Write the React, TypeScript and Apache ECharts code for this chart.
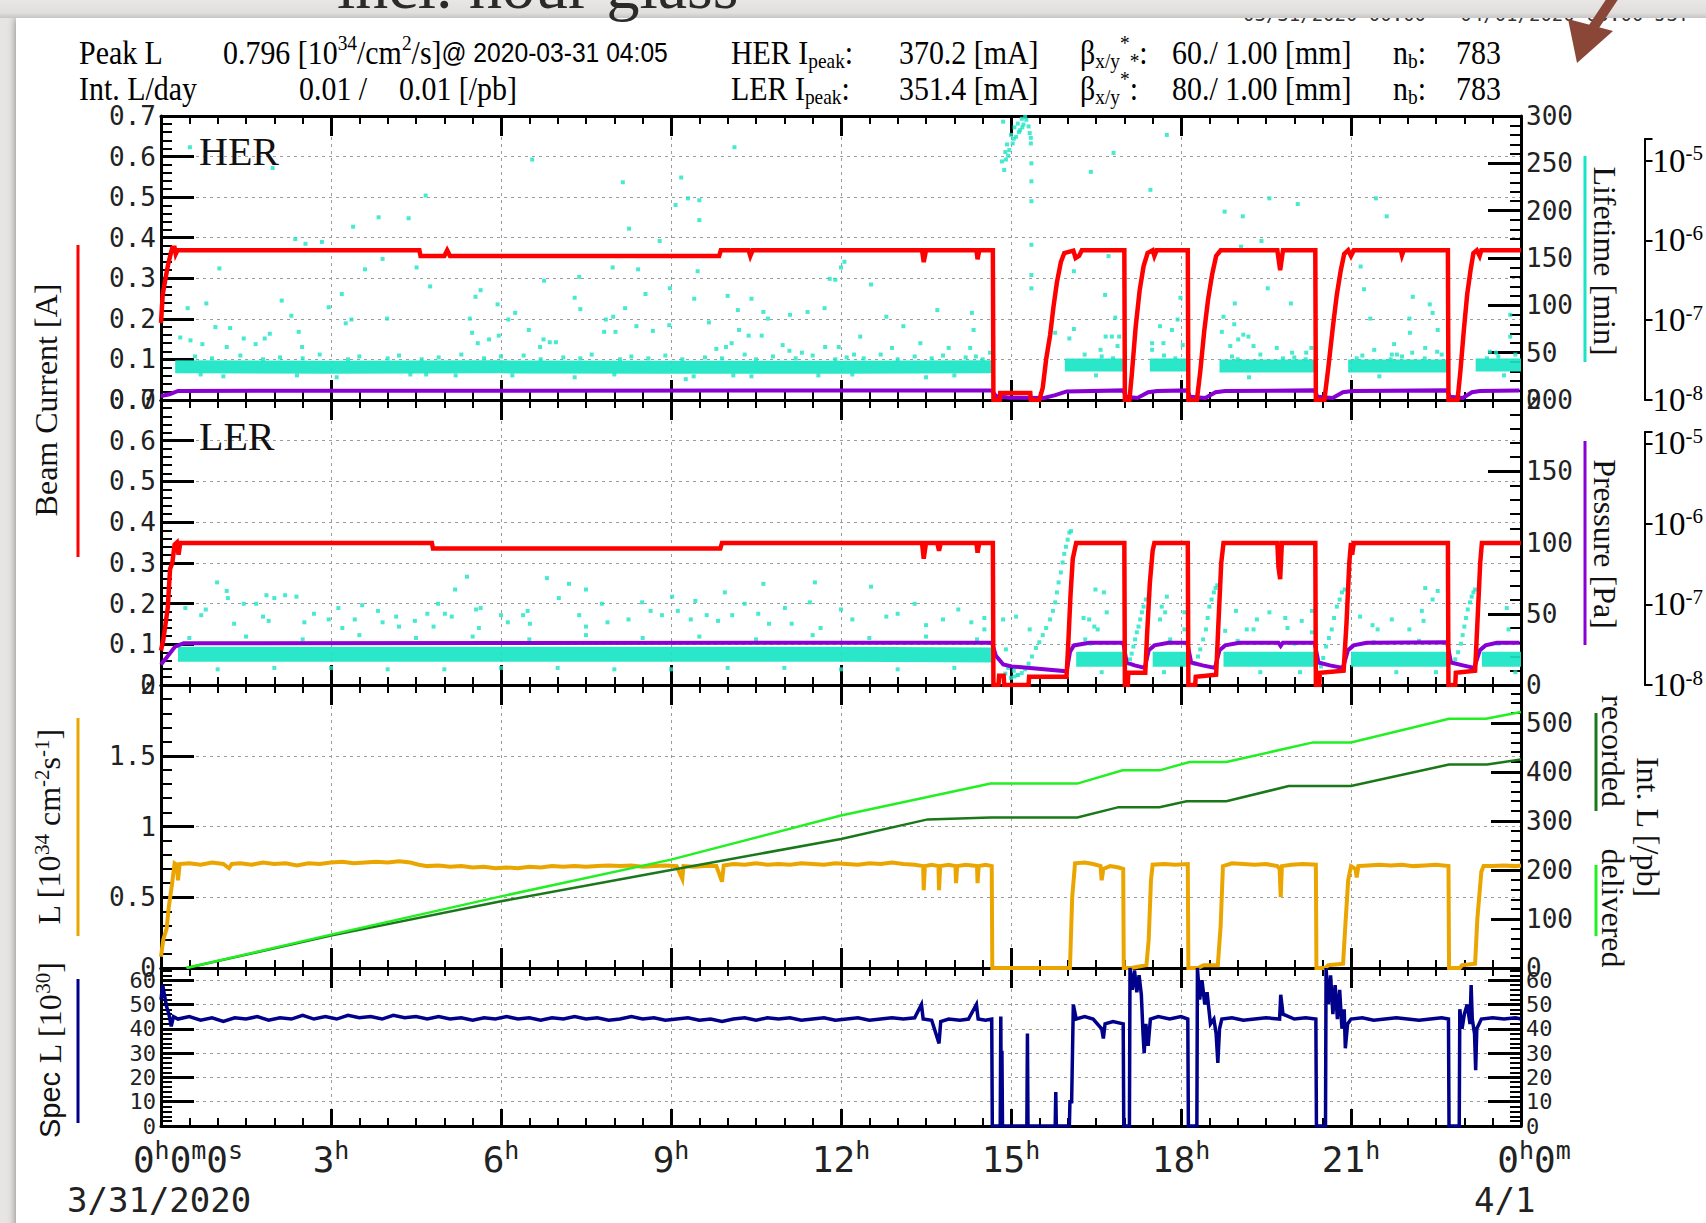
import React, { useEffect, useRef } from "react";
import * as echarts from "echarts";

const MONO = "'DejaVu Sans Mono', 'Liberation Mono', monospace";
const SERIF = "'Liberation Serif', 'DejaVu Serif', serif";
const SANS = "'Liberation Sans', 'DejaVu Sans', sans-serif";

const RED = "#ff0000";
const CYAN = "#19e5c6";
const PURPLE = "#8800d4";
const ORANGE = "#eba500";
const GREEN = "#22f022";
const DKGREEN = "#1a781a";
const NAVY = "#00008b";
const BG = "#e7e5e3";

type Pt = [number, number | null];

// ---------------- data: time in hours since 00:00, 3/31/2020 ----------------

// HER beam current [A]
const herCurrent: Pt[] = [
  [0, 0.19], [0.03, 0.26], [0.08, 0.3], [0.12, 0.33], [0.17, 0.36], [0.2, 0.375], [0.24, 0.375], [0.26, 0.36],
  [0.29, 0.369], [4.56, 0.369], [4.58, 0.355], [5.0, 0.355], [5.05, 0.369], [5.1, 0.355], [9.85, 0.355],
  [9.88, 0.369], [10.37, 0.369], [10.4, 0.355], [10.44, 0.369], [13.43, 0.369], [13.46, 0.34], [13.5, 0.369],
  [14.39, 0.369], [14.41, 0.347], [14.44, 0.369], [14.68, 0.369], [14.69, 0], [14.8, 0], [14.81, 0.017],
  [15.34, 0.017], [15.35, 0], [15.5, 0], [15.56, 0.03], [15.62, 0.1], [15.69, 0.16], [15.75, 0.23],
  [15.81, 0.29], [15.88, 0.34], [15.94, 0.362], [16.1, 0.368], [16.14, 0.35], [16.2, 0.355], [16.25, 0.369],
  [17.0, 0.369], [17.01, 0], [17.09, 0], [17.13, 0.06], [17.2, 0.18], [17.27, 0.27], [17.34, 0.33],
  [17.41, 0.362], [17.5, 0.369], [17.53, 0.355], [17.57, 0.369], [18.12, 0.369], [18.13, 0], [18.28, 0],
  [18.34, 0.07], [18.41, 0.17], [18.48, 0.25], [18.55, 0.31], [18.62, 0.355], [18.7, 0.369], [19.7, 0.369],
  [19.75, 0.32], [19.8, 0.369], [20.37, 0.369], [20.38, 0], [20.53, 0], [20.6, 0.08], [20.68, 0.18],
  [20.75, 0.26], [20.82, 0.32], [20.88, 0.36], [20.95, 0.369], [21.0, 0.355], [21.05, 0.369], [21.88, 0.369],
  [21.9, 0.357], [21.93, 0.369], [22.71, 0.369], [22.72, 0], [22.88, 0], [22.93, 0.07], [22.99, 0.17],
  [23.05, 0.26], [23.11, 0.32], [23.16, 0.362], [23.22, 0.369], [23.27, 0.355], [23.3, 0.369], [24, 0.369],
];

// LER beam current [A]
const lerCurrent: Pt[] = [
  [0, 0.085], [0.04, 0.11], [0.12, 0.19], [0.16, 0.285], [0.2, 0.3], [0.24, 0.345], [0.28, 0.35], [0.31, 0.32],
  [0.34, 0.349], [4.78, 0.349], [4.8, 0.335], [9.87, 0.335], [9.9, 0.349], [13.43, 0.349], [13.46, 0.31],
  [13.5, 0.349], [13.7, 0.349], [13.73, 0.33], [13.76, 0.349], [14.39, 0.349], [14.41, 0.325], [14.44, 0.349],
  [14.68, 0.349], [14.69, 0], [14.78, 0], [14.79, 0.023], [14.87, 0.023], [14.88, 0], [15.31, 0], [15.32, 0.02],
  [15.98, 0.02], [16.01, 0.1], [16.05, 0.22], [16.09, 0.31], [16.15, 0.349], [17.0, 0.349], [17.01, 0],
  [17.06, 0], [17.07, 0.03], [17.37, 0.03], [17.4, 0.12], [17.45, 0.25], [17.5, 0.33], [17.53, 0.349],
  [18.12, 0.349], [18.13, 0], [18.25, 0], [18.26, 0.02], [18.62, 0.025], [18.66, 0.15], [18.71, 0.3],
  [18.75, 0.349], [19.7, 0.349], [19.72, 0.29], [19.75, 0.26], [19.78, 0.349], [20.37, 0.349], [20.38, 0],
  [20.44, 0], [20.45, 0.03], [20.87, 0.035], [20.92, 0.15], [20.97, 0.3], [21.0, 0.349], [21.02, 0.32],
  [21.05, 0.349], [22.71, 0.349], [22.72, 0], [22.84, 0], [22.85, 0.03], [23.19, 0.035], [23.23, 0.15],
  [23.28, 0.3], [23.31, 0.349], [24, 0.349],
];

// HER / LER vacuum pressure [Pa]
const herPressure: Pt[] = [
  [0, 1.12e-8], [0.15, 1.18e-8], [0.3, 1.3e-8], [14.68, 1.32e-8], [14.75, 1.12e-8], [15.0, 1.07e-8],
  [15.6, 1.06e-8], [15.8, 1.15e-8], [16.0, 1.28e-8], [17.0, 1.32e-8], [17.05, 1.1e-8], [17.25, 1.06e-8],
  [17.44, 1.25e-8], [17.6, 1.3e-8], [18.13, 1.32e-8], [18.18, 1.1e-8], [18.45, 1.06e-8], [18.63, 1.25e-8],
  [18.8, 1.3e-8], [20.38, 1.32e-8], [20.43, 1.1e-8], [20.7, 1.06e-8], [20.88, 1.25e-8], [21.05, 1.3e-8],
  [22.72, 1.32e-8], [22.77, 1.1e-8], [23.0, 1.06e-8], [23.16, 1.25e-8], [23.3, 1.3e-8], [24, 1.32e-8],
];
const lerPressure: Pt[] = [
  [0, 1.8e-8], [0.1, 2.2e-8], [0.25, 3.0e-8], [0.4, 3.3e-8], [14.68, 3.35e-8], [14.75, 2.3e-8], [14.88, 1.8e-8],
  [15.03, 1.7e-8], [16.0, 1.48e-8], [16.06, 2.6e-8], [16.13, 3.1e-8], [16.4, 3.35e-8], [17.0, 3.35e-8],
  [17.06, 1.9e-8], [17.2, 1.75e-8], [17.38, 1.63e-8], [17.45, 2.7e-8], [17.55, 3.1e-8], [17.8, 3.35e-8],
  [18.13, 3.35e-8], [18.2, 1.9e-8], [18.4, 1.75e-8], [18.62, 1.63e-8], [18.7, 2.7e-8], [18.8, 3.1e-8],
  [19.05, 3.35e-8], [19.74, 3.35e-8], [19.78, 3.05e-8], [19.82, 3.35e-8], [20.38, 3.35e-8], [20.45, 1.9e-8],
  [20.65, 1.75e-8], [20.88, 1.63e-8], [20.97, 2.7e-8], [21.07, 3.1e-8], [21.3, 3.35e-8], [22.72, 3.4e-8],
  [22.79, 1.9e-8], [23.0, 1.75e-8], [23.2, 1.63e-8], [23.3, 2.7e-8], [23.4, 3.1e-8], [23.6, 3.35e-8],
  [24, 3.35e-8],
];

// Beam lifetime [min]: the dense core of readings while stored, and the scattered readings
const herLifetimeCore: Pt[] = [
  [0.25, 35], [3, 34.5], [6, 35], [9, 34.5], [12, 34.5], [14.66, 35], [14.67, null], [15.95, 37], [17.0, 37],
  [17.01, null], [17.45, 37], [18.12, 37], [18.13, null], [18.68, 36], [20.37, 36], [20.38, null], [20.95, 36],
  [22.71, 36], [22.72, null], [23.2, 37], [24, 37],
];
const herLifetime: Pt[] = [
  [0.34, 66], [0.47, 97], [0.51, 267], [0.52, 63], [0.73, 59], [0.8, 102], [0.96, 77], [1.03, 139], [1.16, 56],
  [1.22, 76], [1.46, 65], [1.67, 59], [1.83, 65], [1.92, 70], [1.97, 245], [2.13, 105], [2.3, 89], [2.37, 170],
  [2.43, 72], [2.49, 56], [2.55, 165], [2.84, 167], [2.96, 98], [3.19, 112], [3.26, 81], [3.36, 85], [3.39, 183],
  [3.6, 138], [3.84, 193], [3.91, 149], [3.99, 86], [4.37, 192], [4.51, 140], [4.67, 216], [4.68, 27], [4.75, 120],
  [5.45, 86], [5.49, 71], [5.55, 109], [5.59, 60], [5.64, 116], [5.79, 64], [5.94, 101], [5.96, 68], [6.13, 85],
  [6.25, 92], [6.49, 74], [6.55, 254], [6.69, 56], [6.75, 64], [6.76, 126], [6.86, 61], [6.97, 61], [7.3, 108],
  [7.38, 130], [7.4, 96], [7.82, 72], [7.85, 85], [7.97, 140], [7.98, 88], [8.02, 72], [8.15, 230], [8.19, 97],
  [8.26, 181], [8.39, 78], [8.42, 138], [8.55, 112], [8.68, 73], [8.8, 168], [8.97, 79], [8.98, 118], [9.08, 206],
  [9.18, 235], [9.26, 22], [9.3, 213], [9.41, 107], [9.47, 136], [9.5, 211], [9.5, 190], [9.67, 82], [9.8, 54],
  [9.97, 56], [10.0, 110], [10.07, 60], [10.12, 267], [10.18, 95], [10.2, 74], [10.37, 68], [10.42, 107],
  [10.42, 25], [10.6, 68], [10.63, 93], [10.71, 86], [10.97, 58], [11.09, 52], [11.1, 90], [11.31, 50],
  [11.41, 93], [11.71, 97], [11.72, 56], [11.8, 128], [11.9, 127], [11.96, 56], [12.0, 140], [12.06, 146],
  [12.23, 48], [12.34, 67], [12.53, 122], [12.8, 88], [12.9, 55], [13.1, 78], [13.4, 60], [13.7, 95], [13.9, 55],
  [14.28, 55], [14.31, 92], [14.34, 74], [14.38, 46], [14.63, 50],
  [14.84, 252], [14.86, 294], [14.88, 243], [14.9, 262], [14.91, 254], [14.93, 270], [14.95, 258], [14.97, 264],
  [15.0, 280], [15.03, 271], [15.05, 276], [15.06, 288], [15.09, 278], [15.12, 292], [15.14, 283], [15.16, 285],
  [15.19, 297], [15.2, 288], [15.22, 291], [15.25, 299], [15.27, 296], [15.31, 289], [15.33, 282], [15.35, 277],
  [15.35, 271], [15.36, 250], [15.36, 231], [15.36, 210], [15.36, 164], [15.36, 132], [15.36, 118],
  [15.78, 71], [16.03, 65], [16.11, 136], [16.11, 75], [16.41, 241], [16.58, 53], [16.66, 111], [16.67, 67],
  [16.72, 152], [16.78, 67], [16.81, 261], [16.84, 87], [16.88, 57], [16.91, 67], [17.46, 222], [17.49, 60],
  [17.49, 53], [17.63, 78], [17.69, 60], [17.75, 280], [17.84, 74], [17.94, 85], [17.99, 108], [18.03, 58],
  [18.72, 72], [18.75, 88], [18.77, 199], [18.87, 57], [18.94, 80], [18.95, 102], [19.01, 64], [19.06, 162],
  [19.09, 194], [19.1, 69], [19.19, 67], [19.28, 57], [19.42, 168], [19.53, 118], [19.56, 213], [19.69, 55],
  [19.94, 102], [19.96, 50], [20.06, 207], [20.21, 50], [20.3, 55], [21.17, 141], [21.23, 117], [21.34, 86],
  [21.41, 53], [21.44, 213], [21.63, 194], [21.72, 48], [21.76, 59], [21.81, 48], [22.03, 86], [22.04, 71],
  [22.08, 50], [22.09, 109], [22.31, 55], [22.39, 101], [22.44, 92], [22.52, 51], [22.53, 74], [23.45, 51],
  [23.56, 50], [23.81, 90], [23.81, 67],
  [0.6, 46], [1.4, 47], [2.1, 45], [2.8, 48], [3.5, 46], [4.2, 47], [4.9, 45], [5.3, 48], [6.0, 46], [6.4, 47],
  [7.1, 45], [7.6, 48], [8.3, 46], [8.9, 47], [9.6, 45], [10.3, 48], [10.8, 46], [11.5, 47], [12.1, 45],
  [12.7, 48], [13.3, 46], [13.8, 47], [14.2, 45], [16.3, 48], [16.6, 46], [17.7, 47], [18.9, 46], [19.4, 48],
  [20.0, 45], [21.2, 47], [21.9, 46], [22.6, 48], [23.6, 46], [23.9, 48], [1.1, 25], [3.1, 24], [5.2, 26],
  [7.3, 24], [9.4, 25], [11.6, 26], [13.5, 24], [16.5, 26], [19.2, 24], [21.5, 25], [23.7, 26],
  [0.9, 44], [1.8, 43], [2.5, 44], [3.3, 43], [4.0, 44], [4.6, 43], [5.7, 44], [6.7, 43], [7.4, 44], [8.1, 43],
  [8.6, 44], [9.2, 43], [9.9, 44], [10.5, 43], [11.2, 44], [11.9, 43], [12.4, 44], [13.0, 43], [13.6, 44],
  [14.5, 43], [16.8, 44], [17.9, 44], [19.0, 43], [19.8, 44], [20.2, 43], [21.1, 44], [21.7, 43], [22.3, 44],
  [23.4, 44], [0.7, 27], [2.4, 26], [4.4, 27], [6.2, 26], [8.0, 27], [10.1, 26], [12.2, 27], [14.0, 26],
];

const lerLifetimeCore: Pt[] = [
  [0.3, 21.5], [3, 21.5], [6, 21.5], [9, 21.5], [12, 21.5], [14.66, 21], [14.67, null], [16.15, 18], [17.0, 18],
  [17.01, null], [17.5, 18], [18.12, 18], [18.13, null], [18.75, 18], [20.37, 18], [20.38, null], [21.0, 18],
  [22.71, 18], [22.72, null], [23.31, 18], [24, 18],
];
const lerLifetime: Pt[] = [
  [0.43, 54], [0.71, 49], [0.79, 53], [0.99, 72], [1.16, 66], [1.18, 61], [1.29, 43], [1.46, 57], [1.68, 57],
  [1.8, 48], [1.86, 63], [1.9, 45], [2.0, 61], [2.19, 63], [2.39, 62], [2.53, 44], [2.7, 50], [2.96, 46],
  [3.13, 54], [3.2, 40], [3.42, 46], [3.55, 56], [3.83, 52], [3.91, 44], [4.15, 48], [4.2, 41], [4.48, 45],
  [4.7, 50], [4.81, 41], [4.89, 57], [5.01, 50], [5.13, 48], [5.19, 67], [5.4, 76], [5.56, 53], [5.61, 40],
  [5.64, 54], [6.0, 49], [6.12, 44], [6.39, 49], [6.47, 52], [6.51, 43], [6.81, 75], [7.02, 61], [7.2, 71],
  [7.38, 49], [7.5, 67], [7.5, 41], [7.78, 57], [7.88, 44], [8.25, 46], [8.49, 58], [8.64, 52], [8.84, 49],
  [9.02, 62], [9.12, 52], [9.35, 46], [9.43, 59], [9.63, 49], [9.83, 45], [9.95, 65], [10.08, 49], [10.3, 57],
  [10.54, 50], [10.63, 71], [10.73, 43], [11.01, 54], [11.13, 43], [11.45, 58], [11.54, 72], [11.64, 40],
  [12.0, 53], [12.2, 46], [12.53, 69], [12.8, 48], [13.0, 50], [13.3, 57], [13.5, 42], [13.8, 46], [14.07, 53],
  [14.3, 44], [14.53, 47], [14.53, 39], [14.86, 46], [15.09, 48], [14.91, 25], [15.33, 39],
  [14.9, 8], [14.95, 12], [15.0, 5], [15.05, 10], [15.12, 7],
  [15.06, 6], [15.12, 7], [15.19, 8.4], [15.25, 11], [15.31, 15], [15.37, 20], [15.44, 26], [15.5, 30],
  [15.56, 35], [15.62, 40], [15.69, 46], [15.74, 52], [15.78, 58], [15.81, 65], [15.84, 72], [15.88, 79],
  [15.91, 86], [15.94, 92], [15.97, 97], [16.0, 102], [16.03, 107], [16.06, 108],
  [17.06, 15], [17.1, 18], [17.13, 22], [17.16, 27], [17.19, 32], [17.22, 37], [17.25, 41], [17.28, 46],
  [17.31, 51], [17.34, 55], [17.38, 60], [17.43, 62],
  [18.25, 15], [18.3, 20], [18.34, 25], [18.39, 32], [18.44, 39], [18.47, 47], [18.5, 55], [18.54, 60],
  [18.58, 65], [18.61, 68], [18.64, 70],
  [20.47, 13], [20.51, 19], [20.56, 27], [20.61, 33], [20.66, 39], [20.7, 47], [20.75, 55], [20.8, 60],
  [20.84, 65], [20.89, 67],
  [22.84, 18], [22.89, 23], [22.94, 29], [22.97, 35], [23.0, 41], [23.03, 47], [23.06, 53], [23.1, 58],
  [23.13, 62], [23.16, 65], [23.19, 67],
  [16.28, 47], [16.31, 32], [16.38, 46], [16.47, 41], [16.49, 67], [16.53, 39], [16.64, 65], [16.69, 51],
  [17.63, 46], [17.66, 55], [17.72, 51], [17.75, 62], [17.81, 32], [18.06, 51], [18.06, 39], [18.78, 38],
  [18.97, 52], [19.16, 39], [19.28, 39], [19.34, 46], [19.56, 51], [19.84, 47], [19.88, 40], [20.13, 45],
  [20.31, 52], [20.31, 37], [21.16, 48], [21.38, 42], [21.47, 39], [21.72, 46], [22.03, 39], [22.25, 52],
  [22.28, 45], [22.31, 68], [22.44, 60], [22.53, 66], [23.75, 54], [23.78, 39],
  [0.5, 33], [1.5, 34], [2.5, 32], [3.5, 35], [4.5, 33], [5.5, 34], [6.5, 32], [7.5, 35], [8.5, 33], [9.5, 34],
  [10.5, 32], [11.5, 35], [12.5, 33], [13.5, 34], [14.4, 32], [16.4, 29], [17.8, 30], [19.0, 31], [20.0, 29],
  [21.4, 30], [22.2, 31], [23.6, 29], [1.0, 11], [3.0, 12], [5.0, 11], [7.0, 12], [9.0, 11], [11.0, 12],
  [13.0, 11], [16.6, 9], [19.4, 9], [21.8, 9], [23.9, 9], [2.0, 12], [4.0, 11], [6.0, 12], [8.0, 11],
  [10.0, 12], [12.0, 11], [14.0, 12], [17.7, 9], [20.1, 9], [22.5, 9],
];

// Luminosity [10^34 cm^-2 s^-1]
const luminosity: Pt[] = [
  [0, 0.08], [0.04, 0.2], [0.1, 0.28], [0.14, 0.44], [0.19, 0.58], [0.24, 0.74], [0.28, 0.73], [0.3, 0.62],
  [0.33, 0.735], [0.5, 0.74], [0.7, 0.73], [0.9, 0.745], [1.1, 0.735], [1.2, 0.705], [1.25, 0.735], [1.4, 0.74],
  [1.6, 0.73], [1.8, 0.745], [2.0, 0.735], [2.2, 0.74], [2.4, 0.725], [2.6, 0.74], [2.8, 0.735], [3.0, 0.745],
  [3.2, 0.75], [3.4, 0.74], [3.6, 0.745], [3.8, 0.75], [4.0, 0.745], [4.2, 0.755], [4.4, 0.745], [4.55, 0.73],
  [4.7, 0.72], [4.9, 0.725], [5.1, 0.715], [5.3, 0.72], [5.5, 0.71], [5.7, 0.715], [5.9, 0.705], [6.1, 0.71],
  [6.3, 0.705], [6.5, 0.715], [6.7, 0.71], [6.9, 0.72], [7.1, 0.715], [7.3, 0.72], [7.5, 0.715], [7.7, 0.72],
  [7.9, 0.725], [8.1, 0.72], [8.3, 0.725], [8.5, 0.715], [8.7, 0.72], [8.9, 0.725], [9.1, 0.72], [9.2, 0.63],
  [9.22, 0.72], [9.4, 0.715], [9.6, 0.72], [9.8, 0.72], [9.9, 0.61], [9.93, 0.725], [10.1, 0.735], [10.3, 0.73],
  [10.5, 0.74], [10.7, 0.73], [10.9, 0.735], [11.1, 0.73], [11.3, 0.74], [11.5, 0.735], [11.7, 0.73],
  [11.9, 0.74], [12.1, 0.735], [12.3, 0.73], [12.5, 0.74], [12.7, 0.735], [12.9, 0.745], [13.1, 0.735],
  [13.3, 0.73], [13.45, 0.72], [13.46, 0.55], [13.48, 0.72], [13.6, 0.73], [13.72, 0.72], [13.73, 0.55],
  [13.75, 0.72], [13.9, 0.73], [14.02, 0.72], [14.03, 0.6], [14.05, 0.72], [14.2, 0.73], [14.4, 0.72],
  [14.41, 0.6], [14.43, 0.72], [14.55, 0.73], [14.66, 0.72], [14.67, 0], [16.04, 0], [16.08, 0.5],
  [16.13, 0.74], [16.3, 0.745], [16.45, 0.735], [16.58, 0.72], [16.6, 0.62], [16.63, 0.7], [16.75, 0.72],
  [16.9, 0.71], [16.98, 0.7], [16.99, 0], [17.12, 0], [17.39, 0.02], [17.43, 0.2], [17.47, 0.62], [17.5, 0.73],
  [17.7, 0.735], [17.9, 0.73], [18.12, 0.735], [18.13, 0], [18.3, 0], [18.4, 0.02], [18.65, 0.02], [18.7, 0.3],
  [18.74, 0.72], [18.9, 0.74], [19.1, 0.735], [19.3, 0.73], [19.5, 0.735], [19.7, 0.72], [19.74, 0.7],
  [19.76, 0.5], [19.78, 0.72], [19.95, 0.73], [20.15, 0.735], [20.38, 0.73], [20.39, 0], [20.55, 0],
  [20.6, 0.02], [20.86, 0.03], [20.9, 0.3], [20.95, 0.62], [21.0, 0.72], [21.08, 0.7], [21.1, 0.64],
  [21.13, 0.72], [21.3, 0.725], [21.5, 0.73], [21.7, 0.725], [21.9, 0.73], [22.1, 0.72], [22.3, 0.725],
  [22.5, 0.73], [22.72, 0.72], [22.73, 0], [22.92, 0], [22.96, 0.02], [23.19, 0.03], [23.23, 0.35],
  [23.3, 0.68], [23.34, 0.72], [23.5, 0.72], [23.7, 0.725], [23.9, 0.72], [24, 0.725],
];

// Integrated luminosity [/pb]
const intLumDelivered: Pt[] = [
  [0.45, 0], [3, 68], [6, 146], [9, 221], [12, 311], [14.64, 376], [16.17, 376], [16.97, 403], [17.62, 403],
  [18.15, 420], [18.8, 420], [20.33, 460], [21.0, 460], [22.73, 508], [23.38, 508], [24, 522],
];
const intLumRecorded: Pt[] = [
  [0.45, 0], [3, 66], [6, 136], [9, 200], [12, 263], [13.53, 303], [14.64, 307], [16.17, 307], [16.9, 328],
  [17.62, 328], [18.1, 340], [18.8, 340], [19.9, 371], [21.0, 371], [22.73, 415], [23.4, 415], [24, 425],
];

// Specific luminosity [10^30]
const specificLum: Pt[] = [
  [0, 52], [0.03, 58], [0.06, 54], [0.1, 49], [0.14, 46], [0.18, 41], [0.22, 45], [0.3, 44], [0.5, 45],
  [0.7, 43.5], [0.9, 44.5], [1.1, 43], [1.3, 44.5], [1.5, 44], [1.7, 45], [1.9, 43.5], [2.1, 44.5], [2.3, 44],
  [2.5, 45.5], [2.7, 44], [2.9, 45], [3.1, 44], [3.3, 45.5], [3.5, 44.5], [3.7, 45], [3.9, 44], [4.1, 45.5],
  [4.3, 44.5], [4.5, 45], [4.7, 44], [4.9, 45], [5.1, 44], [5.3, 44.5], [5.5, 43.5], [5.7, 44.5], [5.9, 44],
  [6.1, 45], [6.3, 44], [6.5, 44.5], [6.7, 43.5], [6.9, 44.5], [7.1, 44], [7.3, 45], [7.5, 44], [7.7, 44.5],
  [7.9, 43.5], [8.1, 44], [8.3, 45], [8.5, 44], [8.7, 44.5], [8.9, 43.5], [9.1, 44], [9.3, 44.5], [9.5, 43.5],
  [9.7, 44], [9.9, 43], [10.1, 44], [10.3, 44.5], [10.5, 43.5], [10.7, 44.5], [10.9, 44], [11.1, 44.5],
  [11.3, 43.5], [11.5, 44], [11.7, 44.5], [11.9, 43.5], [12.1, 44], [12.3, 44.5], [12.5, 43.5], [12.7, 44],
  [12.9, 44.5], [13.1, 44], [13.3, 44.5], [13.42, 50], [13.45, 44], [13.6, 43.5], [13.73, 34], [13.76, 43],
  [13.9, 44], [14.1, 43.5], [14.25, 44], [14.39, 50], [14.42, 44], [14.55, 43.5], [14.66, 44], [14.67, 0],
  [14.81, 0], [14.82, 45], [14.83, 0], [14.84, 31], [14.85, 0], [15.28, 0], [15.29, 38], [15.3, 0], [15.78, 0],
  [15.79, 14], [15.8, 0], [16.03, 0], [16.04, 10], [16.07, 10], [16.1, 50], [16.15, 44], [16.3, 45],
  [16.45, 44], [16.6, 40], [16.63, 36], [16.66, 42], [16.8, 43], [16.98, 42], [16.99, 0], [17.09, 0],
  [17.1, 65], [17.14, 56], [17.18, 64], [17.22, 55], [17.26, 62], [17.3, 54], [17.33, 38], [17.35, 30],
  [17.38, 42], [17.42, 33], [17.46, 44], [17.6, 45], [17.8, 44], [18.0, 45], [18.12, 44], [18.13, 0],
  [18.28, 0], [18.29, 65], [18.33, 52], [18.37, 60], [18.42, 50], [18.46, 55], [18.52, 42], [18.58, 44],
  [18.62, 38], [18.65, 26], [18.68, 40], [18.72, 44], [18.9, 44.5], [19.1, 43.5], [19.3, 44], [19.5, 44.5],
  [19.74, 44], [19.76, 54], [19.8, 46], [20.0, 44], [20.2, 44.5], [20.38, 44], [20.39, 0], [20.55, 0],
  [20.56, 65], [20.6, 50], [20.64, 62], [20.68, 46], [20.72, 58], [20.76, 44], [20.8, 56], [20.84, 40],
  [20.88, 48], [20.9, 32], [20.94, 42], [21.0, 44], [21.2, 44.5], [21.4, 43.5], [21.6, 44], [21.8, 44.5],
  [22.0, 44], [22.2, 43.5], [22.4, 44], [22.6, 44.5], [22.72, 44], [22.73, 0], [22.91, 0], [22.92, 48],
  [22.96, 40], [23.0, 46], [23.05, 50], [23.1, 42], [23.12, 58], [23.14, 44], [23.18, 38], [23.2, 23],
  [23.22, 40], [23.3, 44], [23.5, 44.5], [23.7, 44], [23.9, 44.5], [24, 44],
];

// ---------------- layout ----------------
const W = 1706;
const H = 1223;
const PLOT_LEFT = 161;
const PLOT_WIDTH = 1360;
const PANELS = [
  { top: 116, height: 284 },
  { top: 400, height: 285 },
  { top: 685, height: 283 },
  { top: 968, height: 158 },
];
// log-scale pressure axes (10^-8 .. just above 10^-5) beside the two ring panels
const LOG_GRIDS = [
  { top: 139, height: 261, max: -4.73 },
  { top: 432, height: 253, max: -4.86 },
];

const GRID_LINE = { color: "#9c9c9c", width: 1, type: [3, 4] };

const log10Pts = (pts: Pt[]) => pts.map(([t, v]) => [t, v == null ? null : Math.log10(v)]);

function xAxes() {
  const list: any[] = [];
  PANELS.forEach((_, i) => {
    const last = i === PANELS.length - 1;
    const common = {
      type: "value",
      gridIndex: i,
      min: 0,
      max: 24,
      interval: 3,
      axisLine: { show: true, onZero: false, lineStyle: { color: "#000", width: 3 } },
      minorTick: { show: true, splitNumber: 6, length: 8, lineStyle: { color: "#000", width: 2 } },
    };
    list.push({
      ...common,
      position: "bottom",
      axisTick: { show: true, inside: true, length: last ? 17 : 20, lineStyle: { color: "#000", width: 3 } },
      splitLine: { show: true, lineStyle: GRID_LINE },
      axisLabel: last
        ? {
            show: true,
            margin: 12,
            showMinLabel: true,
            showMaxLabel: true,
            formatter: (v: number) =>
              v === 0
                ? "{p| }{n|0}{s|h}{n|0}{s|m}{n|0}{s|s}"
                : v === 24
                ? "{q| }{n|0}{s|h}{n|0}{s|m}"
                : `{n|${v}}{s|h}`,
            rich: {
              n: { fontFamily: MONO, fontSize: 36, lineHeight: 42, color: "#222" },
              s: { fontFamily: MONO, fontSize: 25, lineHeight: 26, color: "#222", verticalAlign: "top" },
              p: { width: 54 },
              q: { width: 26 },
            },
          }
        : { show: false },
    });
    list.push({
      ...common,
      position: "top",
      axisTick: { show: true, inside: true, length: 20, lineStyle: { color: "#000", width: 3 } },
      splitLine: { show: false },
      axisLabel: { show: false },
    });
  });
  LOG_GRIDS.forEach((_, j) => {
    list.push({ type: "value", gridIndex: PANELS.length + j, min: 0, max: 24, show: false });
  });
  return list;
}

function valueAxis(
  grid: number,
  position: "left" | "right",
  min: number,
  max: number,
  interval: number,
  o: { fmt: (v: number) => string; fontSize: number; major: number; minor: number; split?: boolean }
) {
  return {
    type: "value",
    gridIndex: grid,
    position,
    min,
    max,
    interval,
    axisLine: { show: true, onZero: false, lineStyle: { color: "#000", width: 3 } },
    axisTick: { show: true, inside: true, length: o.major, lineStyle: { color: "#000", width: 3 } },
    minorTick: { show: true, splitNumber: 5, length: o.minor, lineStyle: { color: "#000", width: 2 } },
    splitLine: { show: !!o.split, lineStyle: GRID_LINE },
    axisLabel: {
      show: true,
      showMinLabel: true,
      showMaxLabel: true,
      margin: 5,
      fontFamily: MONO,
      fontSize: o.fontSize,
      color: "#222",
      formatter: o.fmt,
    },
  };
}

const oneDecimal = (v: number) => (Math.round(v * 10) / 10).toFixed(1);
const multipleOf = (step: number) => (v: number) =>
  Math.abs(v / step - Math.round(v / step)) < 1e-6 ? String(Math.round(v)) : "";

function yAxes() {
  const logAxes = LOG_GRIDS.map((g, j) => ({
    type: "value",
    gridIndex: PANELS.length + j,
    position: "right",
    offset: 125,
    min: -8,
    max: g.max,
    interval: 1,
    axisLine: { show: true, onZero: false, lineStyle: { color: "#000", width: 2 } },
    axisTick: { show: true, inside: false, length: 8, lineStyle: { color: "#000", width: 2 } },
    splitLine: { show: false },
    axisLabel: {
      show: true,
      margin: 8,
      formatter: (v: number) => (Math.abs(v - Math.round(v)) < 1e-6 ? `{b|10}{s|${Math.round(v)}}` : ""),
      rich: {
        b: { fontFamily: SERIF, fontSize: 33, lineHeight: 36, color: "#000" },
        s: { fontFamily: SERIF, fontSize: 21, lineHeight: 20, color: "#000", verticalAlign: "top" },
      },
    },
  }));
  return [
    valueAxis(0, "left", 0, 0.7, 0.1, { fmt: oneDecimal, fontSize: 26, major: 33, minor: 11, split: true }),
    valueAxis(0, "right", 0, 300, 50, { fmt: multipleOf(50), fontSize: 26, major: 33, minor: 11 }),
    valueAxis(1, "left", 0, 0.7, 0.1, {
      fmt: (v) => (v === 0 ? "0" : oneDecimal(v)),
      fontSize: 26,
      major: 33,
      minor: 11,
      split: true,
    }),
    valueAxis(1, "right", 0, 200, 50, { fmt: multipleOf(50), fontSize: 26, major: 33, minor: 11 }),
    valueAxis(2, "left", 0, 2, 0.5, { fmt: (v) => String(v), fontSize: 26, major: 33, minor: 11, split: true }),
    valueAxis(2, "right", 0, 577, 100, { fmt: multipleOf(100), fontSize: 26, major: 30, minor: 10 }),
    valueAxis(3, "left", 0, 65, 10, { fmt: multipleOf(10), fontSize: 22, major: 33, minor: 11, split: true }),
    valueAxis(3, "right", 0, 65, 10, { fmt: multipleOf(10), fontSize: 22, major: 33, minor: 11 }),
    ...logAxes,
  ];
}

function line(name: string, data: any[], xi: number, yi: number, color: string, width: number, z = 3, opacity = 1) {
  return {
    type: "line",
    name,
    data,
    xAxisIndex: xi,
    yAxisIndex: yi,
    showSymbol: false,
    symbol: "none",
    connectNulls: false,
    lineStyle: { color, width, cap: "butt", join: "miter", opacity },
    itemStyle: { color },
    silent: true,
    z,
  };
}

function dots(name: string, data: any[], xi: number, yi: number, color: string, size: number, z = 3) {
  return {
    type: "scatter",
    name,
    data,
    xAxisIndex: xi,
    yAxisIndex: yi,
    symbol: "rect",
    symbolSize: size,
    itemStyle: { color },
    silent: true,
    z,
  };
}

// ---------------- decorations (texts, legend bars, frame) ----------------
const hdrRich = {
  m: { fontFamily: SERIF, fontSize: 34, lineHeight: 40, fill: "#000" },
  sup: { fontFamily: SERIF, fontSize: 22, lineHeight: 20, verticalAlign: "top", fill: "#000" },
  sub: { fontFamily: SERIF, fontSize: 22, lineHeight: 20, verticalAlign: "bottom", fill: "#000" },
  sans: { fontFamily: SANS, fontSize: 28, lineHeight: 40, fill: "#000" },
};

function hdr(x: number, y: number, text: string) {
  return {
    type: "text",
    x,
    y,
    scaleX: 0.88,
    z: 10,
    style: { text, rich: hdrRich, fontFamily: SERIF, fontSize: 34, fill: "#000", align: "left", verticalAlign: "middle" },
  };
}

const titleRich = {
  m: { fontFamily: SERIF, fontSize: 32, lineHeight: 36, fill: "#111" },
  sup: { fontFamily: SERIF, fontSize: 21, lineHeight: 18, verticalAlign: "top", fill: "#111" },
  sans: { fontFamily: SANS, fontSize: 29, lineHeight: 36, fill: "#111" },
};

function vtitle(x: number, y: number, text: string, rotation: number) {
  return {
    type: "text",
    x,
    y,
    rotation,
    z: 10,
    style: { text, rich: titleRich, fontFamily: SERIF, fontSize: 32, fill: "#111", align: "center", verticalAlign: "middle" },
  };
}

function bar(x: number, y1: number, y2: number, color: string) {
  return { type: "line", z: 10, shape: { x1: x, y1, x2: x, y2 }, style: { stroke: color, lineWidth: 3 } };
}

function graphics() {
  const up = Math.PI / 2;
  const down = -Math.PI / 2;
  return [
    {
      type: "rect",
      z: -10,
      shape: { x: 16, y: 18, width: W, height: H },
      style: { fill: "#ffffff", shadowBlur: 8, shadowColor: "rgba(0,0,0,0.45)" },
    },
    {
      type: "text",
      x: 1243,
      y: 14,
      z: 40,
      style: {
        text: "03/31/2020 00:00 - 04/01/2020 00:00 JST",
        fontFamily: MONO,
        fontSize: 19,
        fill: "#333",
        align: "left",
        verticalAlign: "middle",
      },
    },
    {
      type: "rect",
      z: 50,
      shape: { x: 0, y: 0, width: W, height: 18 },
      style: {
        fill: new echarts.graphic.LinearGradient(0, 0, 0, 1, [
          { offset: 0, color: "#e9e7e5" },
          { offset: 0.7, color: "#e1dfdd" },
          { offset: 1, color: "#c8c6c4" },
        ]),
      },
    },
    {
      type: "text",
      x: 337,
      y: -15,
      z: 60,
      style: { text: "incl. hour glass", fontFamily: SERIF, fontSize: 66, fill: "#2a2a2a", align: "left", verticalAlign: "middle" },
    },
    { type: "line", z: 70, shape: { x1: 1617, y1: -8, x2: 1593, y2: 28 }, style: { stroke: "#8a4738", lineWidth: 10 } },
    { type: "polygon", z: 70, shape: { points: [[1568, 19], [1613, 31], [1577, 63]] }, style: { fill: "#8a4738" } },

    // run summary header
    hdr(79, 52, "{m|Peak L}"),
    hdr(223, 52, "{m|0.796 [10}{sup|34}{m|/cm}{sup|2}{m|/s]}{sans|@ 2020-03-31 04:05}"),
    hdr(79, 88, "{m|Int. L/day}"),
    hdr(299, 88, "{m|0.01 /}"),
    hdr(399, 88, "{m|0.01 [/pb]}"),
    hdr(731, 52, "{m|HER I}{sub|peak}{m|:}"),
    hdr(899, 52, "{m|370.2 [mA]}"),
    hdr(1080, 52, "{m|β}{sub|x/y}{sup|*}{sub|*}{m|:}"),
    hdr(1172, 52, "{m|60./ 1.00 [mm]}"),
    hdr(1393, 52, "{m|n}{sub|b}{m|:}"),
    hdr(1456, 52, "{m|783}"),
    hdr(731, 88, "{m|LER I}{sub|peak}{m|:}"),
    hdr(899, 88, "{m|351.4 [mA]}"),
    hdr(1080, 88, "{m|β}{sub|x/y}{sup|*}{m|:}"),
    hdr(1172, 88, "{m|80./ 1.00 [mm]}"),
    hdr(1393, 88, "{m|n}{sub|b}{m|:}"),
    hdr(1456, 88, "{m|783}"),

    // ring labels inside the panels
    {
      type: "text",
      x: 199,
      y: 151,
      z: 10,
      style: { text: "HER", fontFamily: SERIF, fontSize: 40, fill: "#111", align: "left", verticalAlign: "middle" },
    },
    {
      type: "text",
      x: 199,
      y: 436,
      z: 10,
      style: { text: "LER", fontFamily: SERIF, fontSize: 40, fill: "#111", align: "left", verticalAlign: "middle" },
    },

    // left axis titles with colour keys
    vtitle(46, 400, "{m|Beam Current [A]}", up),
    bar(78, 245, 557, RED),
    vtitle(49, 827, "{m|L [10}{sup|34}{m| cm}{sup|-2}{m|s}{sup|-1}{m|]}", up),
    bar(78, 718, 936, ORANGE),
    vtitle(50, 1050, "{sans|Spec}{m| L [10}{sup|30}{m|]}", up),
    bar(78, 979, 1123, NAVY),

    // right axis titles with colour keys
    vtitle(1605, 261, "{m|Lifetime [min]}", down),
    bar(1585, 156, 362, CYAN),
    vtitle(1605, 544, "{m|Pressure [Pa]}", down),
    bar(1585, 441, 645, PURPLE),
    vtitle(1648, 827, "{m|Int. L [/pb]}", down),
    vtitle(1613, 751, "{m|recorded}", down),
    bar(1596, 713, 811, DKGREEN),
    vtitle(1613, 908, "{m|delivered}", down),
    bar(1596, 865, 936, GREEN),

    // date under the time axis
    {
      type: "text",
      x: 67,
      y: 1200,
      z: 10,
      style: { text: "3/31/2020", fontFamily: MONO, fontSize: 34, fill: "#222", align: "left", verticalAlign: "middle" },
    },
    {
      type: "text",
      x: 1474,
      y: 1200,
      z: 10,
      style: { text: "4/1", fontFamily: MONO, fontSize: 34, fill: "#222", align: "left", verticalAlign: "middle" },
    },
  ];
}

function buildOption() {
  const grids = [
    ...PANELS.map((p) => ({ left: PLOT_LEFT, width: PLOT_WIDTH, top: p.top, height: p.height, containLabel: false })),
    ...LOG_GRIDS.map((g) => ({ left: PLOT_LEFT, width: PLOT_WIDTH, top: g.top, height: g.height, containLabel: false })),
  ];
  return {
    animation: false,
    backgroundColor: BG,
    textStyle: { fontFamily: MONO },
    grid: grids,
    xAxis: xAxes(),
    yAxis: yAxes(),
    series: [
      // HER panel
      line("HER lifetime core", herLifetimeCore, 0, 1, CYAN, 13, 2, 0.92),
      dots("HER lifetime", herLifetime, 0, 1, CYAN, 4, 2),
      line("HER pressure", log10Pts(herPressure), 8, 8, PURPLE, 4, 4),
      line("HER current", herCurrent, 0, 0, RED, 4.5, 5),
      // LER panel
      line("LER lifetime core", lerLifetimeCore, 2, 3, CYAN, 15, 2, 0.92),
      dots("LER lifetime", lerLifetime, 2, 3, CYAN, 4, 2),
      line("LER pressure", log10Pts(lerPressure), 9, 9, PURPLE, 4, 4),
      line("LER current", lerCurrent, 2, 2, RED, 4.5, 5),
      // luminosity panel
      line("Luminosity", luminosity, 4, 4, ORANGE, 4, 3),
      line("Int. L recorded", intLumRecorded, 4, 5, DKGREEN, 2.5, 4),
      line("Int. L delivered", intLumDelivered, 4, 5, GREEN, 2.5, 4),
      // specific luminosity panel
      line("Specific luminosity", specificLum, 6, 6, NAVY, 3.5, 3),
    ],
    graphic: { elements: graphics() },
  };
}

export default function App() {
  const ref = useRef<HTMLDivElement>(null);
  useEffect(() => {
    const el = ref.current;
    if (!el) return;
    const chart = echarts.init(el, undefined, { renderer: "svg" });
    chart.setOption(buildOption() as any);
    return () => chart.dispose();
  }, []);
  return <div ref={ref} style={{ position: "fixed", left: 0, top: 0, width: W, height: H }} />;
}
